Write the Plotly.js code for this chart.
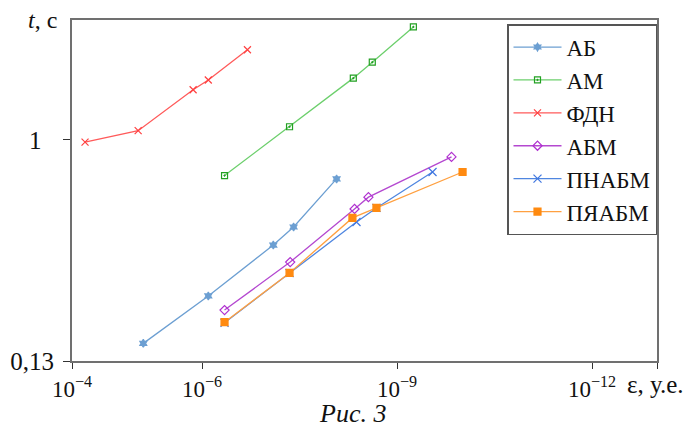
<!DOCTYPE html>
<html><head><meta charset="utf-8">
<script src="https://cdn.plot.ly/plotly-3.0.1.min.js"></script>
<style>html,body{margin:0;padding:0;background:#fff}#chart{width:684px;height:432px}</style>
</head><body><div id="chart"></div>
<script>
// ε values (x) and times t (y)
const abX = [8e-6, 8e-7, 8e-8, 3.9e-8, 8.5e-9];
const abY = [0.153, 0.237, 0.379, 0.448, 0.698];
const amX = [4.5e-7, 4.5e-8, 4.7e-9, 2.4e-9, 5.6e-10];
const amY = [0.72, 1.13, 1.77, 2.05, 2.84];
const fdnX = [6.3e-5, 9.6e-6, 1.37e-6, 8e-7, 2e-7];
const fdnY = [0.98, 1.09, 1.59, 1.74, 2.3];
const abmX = [4.5e-7, 4.4e-8, 4.5e-9, 2.75e-9, 1.45e-10];
const abmY = [0.208, 0.324, 0.529, 0.59, 0.855];
const pnabmX = [4.5e-7, 4.5e-8, 4.2e-9, 2.07e-9, 2.84e-10];
const pnabmY = [0.185, 0.293, 0.469, 0.534, 0.744];
const pyabmX = [4.5e-7, 4.5e-8, 4.85e-9, 2.07e-9, 9.8e-11];
const pyabmY = [0.186, 0.293, 0.487, 0.534, 0.744];
const names = ["АБ", "АМ", "ФДН", "АБМ", "ПНАБМ", "ПЯАБМ"];
const xTickVals = [1e-4, 1e-6, 1e-9, 1e-12, 1e-13];
const xTickText = ["10<sup>−4</sup>", "10<sup>−6</sup>", "10<sup>−9</sup>", "10<sup>−12</sup>", ""];
const yTickVals = [0.13, 1];
const yTickText = ["0,13", "1\u2002"];

const F = '"Liberation Serif", "Times New Roman", Times, serif';
function tr(x, y, name, lineColor, mColor, symbol, size) {
  return {x: x, y: y, name: name, type: "scatter", mode: "lines+markers",
    line: {color: lineColor, width: 1.3},
    marker: {symbol: symbol, size: size, color: mColor, line: {color: mColor, width: 1.2}}};
}
const data = [
  tr(abX, abY, names[0], "#6c9fd2", "#6c9fd2", "hexagram", 6),
  tr(amX, amY, names[1], "#6ccf6c", "#22a022", "square-open-dot", 6),
  tr(fdnX, fdnY, names[2], "#ff5a5a", "#ff4040", "x-thin-open", 7),
  tr(abmX, abmY, names[3], "#b448d0", "#b030d0", "diamond-open", 7),
  tr(pnabmX, pnabmY, names[4], "#4f86e0", "#3f76e0", "x-thin-open", 8),
  tr(pyabmX, pyabmY, names[5], "#ffa040", "#ff8a10", "square", 7)
];
const layout = {
  width: 684, height: 432,
  margin: {l: 72, r: 27, t: 20, b: 71},
  paper_bgcolor: "#fff", plot_bgcolor: "#fff",
  font: {family: F, color: "#111", size: 24},
  showlegend: true,
  legend: {x: 1, xanchor: "right", y: 0.988, yanchor: "top",
    bordercolor: "#555", borderwidth: 1.5, bgcolor: "#fff",
    font: {family: F, size: 23, color: "#111"},
    tracegroupgap: 0, itemwidth: 48},
  xaxis: {type: "log", range: [-4, -13], autorange: false,
    tickvals: xTickVals, ticktext: xTickText,
    ticks: "outside", ticklen: 6, tickcolor: "#333", tickwidth: 1,
    showline: true, mirror: true, linecolor: "#707070", linewidth: 2,
    showgrid: false, zeroline: false,
    tickfont: {family: F, size: 23, color: "#111"}},
  yaxis: {type: "log", range: [Math.log10(0.13), 0.481], autorange: false,
    tickvals: yTickVals, ticktext: yTickText,
    ticks: "outside", ticklen: 7, tickcolor: "#333", tickwidth: 1,
    ticklabelstandoff: 4,
    showline: true, mirror: true, linecolor: "#707070", linewidth: 2,
    showgrid: false, zeroline: false,
    tickfont: {family: F, size: 25, color: "#111"}},
  annotations: [
    {text: "<i>t</i>, с", xref: "paper", yref: "paper", x: -0.022, y: 1.0, xanchor: "right", yanchor: "middle", yshift: 0,
      showarrow: false, font: {family: F, size: 24, color: "#111"}},
    {text: "ε, у.е.", xref: "paper", yref: "paper", x: 1.049, y: 0, xanchor: "right", yanchor: "middle", yshift: -23,
      showarrow: false, font: {family: F, size: 25, color: "#111"}},
    {text: "<i>Рис. 3</i>", xref: "paper", yref: "paper", x: 0.479, y: 0, xanchor: "center", yanchor: "middle", yshift: -52,
      showarrow: false, font: {family: F, size: 26, color: "#111"}}
  ]
};
Plotly.newPlot("chart", data, layout, {displayModeBar: false, staticPlot: true});
</script></body></html>
